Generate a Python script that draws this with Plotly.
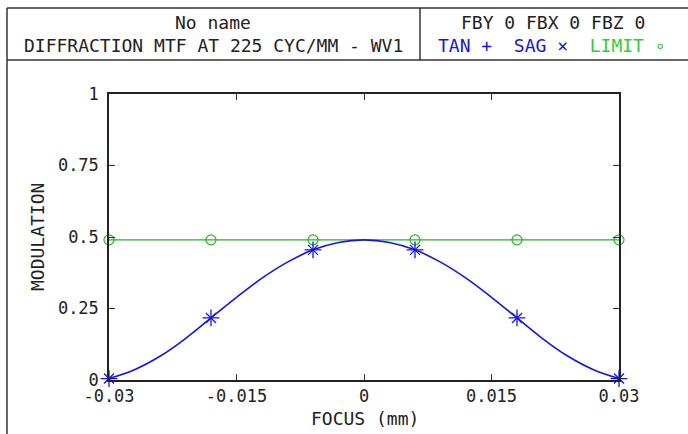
import plotly.graph_objects as go

# ---- data ----
focus_pts = [-0.03, -0.018, -0.006, 0.006, 0.018, 0.03]
tan_pts = [0.005, 0.217, 0.455, 0.455, 0.217, 0.005]
sag_pts = [0.005, 0.217, 0.455, 0.455, 0.217, 0.005]
limit_pts = [0.49, 0.49, 0.49, 0.49, 0.49, 0.49]

curve_x = [-0.03, -0.027, -0.024, -0.021, -0.018, -0.015, -0.012, -0.009, -0.006, -0.003, 0.0,
           0.003, 0.006, 0.009, 0.012, 0.015, 0.018, 0.021, 0.024, 0.027, 0.03]
curve_y = [0.005, 0.036, 0.083, 0.145, 0.217, 0.289, 0.356, 0.412, 0.455, 0.481, 0.49,
           0.481, 0.455, 0.412, 0.356, 0.289, 0.217, 0.145, 0.083, 0.036, 0.005]

x_ticks = [-0.03, -0.015, 0, 0.015, 0.03]
x_tick_labels = ["-0.03", "-0.015", "0", "0.015", "0.03"]
y_ticks = [0, 0.25, 0.5, 0.75, 1]
y_tick_labels = ["0", "0.25", "0.5", "0.75", "1"]

title_line1 = "No name"
title_line2 = "DIFFRACTION MTF AT 225 CYC/MM - WV1"
field_line = "FBY 0 FBX 0 FBZ 0"

BLUE = "#1414e6"
GREEN = "#22b422"
TXT = "#222222"
FONT = "DejaVu Sans Mono"

W, H = 688, 434
L, R, T, B = 109, 619, 94, 380


def px(x):
    return (x - L) / (R - L)


def py(y):
    return (B - y) / (B - T)


fig = go.Figure()
fig.add_trace(go.Scatter(x=focus_pts, y=limit_pts, mode="lines+markers",
                         line=dict(color=GREEN, width=1.2),
                         marker=dict(symbol="circle-open", size=10, color=GREEN, line=dict(width=1.2)),
                         showlegend=False, cliponaxis=False))
fig.add_trace(go.Scatter(x=curve_x, y=curve_y, mode="lines", line=dict(color=BLUE, width=1.6, shape="spline"),
                         showlegend=False, cliponaxis=False))
fig.add_trace(go.Scatter(x=focus_pts, y=tan_pts, mode="markers",
                         marker=dict(symbol="cross-thin", size=12, color=BLUE, line=dict(width=1.3, color=BLUE)),
                         showlegend=False, cliponaxis=False))
fig.add_trace(go.Scatter(x=focus_pts, y=sag_pts, mode="markers",
                         marker=dict(symbol="x-thin", size=10, color=BLUE, line=dict(width=1.3, color=BLUE)),
                         showlegend=False, cliponaxis=False))

axis_common = dict(showgrid=False, zeroline=False, showline=True, linecolor="#222222", linewidth=1.5,
                   mirror="ticks", ticks="inside", ticklen=6, tickwidth=1.2, tickcolor="#333333",
                   tickfont=dict(family=FONT, size=17, color=TXT))

fig.update_xaxes(range=[-0.03, 0.03], tickvals=x_ticks, ticktext=x_tick_labels, ticklabelstandoff=0, **axis_common)
fig.update_yaxes(range=[0, 1], tickvals=y_ticks, ticktext=y_tick_labels, ticklabelstandoff=5, **axis_common)

line_style = dict(color="#333333", width=1.5)
shapes = [
    dict(type="line", xref="paper", yref="paper", x0=px(7), x1=px(690), y0=py(8), y1=py(8), line=line_style),
    dict(type="line", xref="paper", yref="paper", x0=px(7), x1=px(690), y0=py(60), y1=py(60), line=line_style),
    dict(type="line", xref="paper", yref="paper", x0=px(7), x1=px(7), y0=py(8), y1=py(440), line=line_style),
    dict(type="line", xref="paper", yref="paper", x0=px(420), x1=px(420), y0=py(8), y1=py(60), line=line_style),
]

legend_line = (f"<span style='color:{BLUE}'>TAN +\u00a0\u00a0SAG ×</span>\u00a0\u00a0"
               f"<span style='color:#33cc33'>LIMIT ∘</span>")

ann = [
    dict(text=title_line1, x=px(213), y=py(22)),
    dict(text=title_line2, x=px(213), y=py(45)),
    dict(text=field_line, x=px(553), y=py(22)),
    dict(text=legend_line, x=px(552), y=py(45)),
    dict(text="FOCUS (mm)", x=px(365), y=py(419)),
    dict(text="MODULATION", x=px(37), y=py(237), textangle=-90),
]
annotations = []
for a in ann:
    d = dict(xref="paper", yref="paper", showarrow=False, xanchor="center", yanchor="middle",
             font=dict(family=FONT, size=18, color=TXT))
    d.update(a)
    annotations.append(d)

fig.update_layout(width=W, height=H, margin=dict(l=L, r=W - R, t=T, b=H - B),
                  paper_bgcolor="white", plot_bgcolor="white",
                  shapes=shapes, annotations=annotations, showlegend=False)

fig.write_html("out.html", config={"displayModeBar": False},
               post_script="document.body.style.margin='0px';")
